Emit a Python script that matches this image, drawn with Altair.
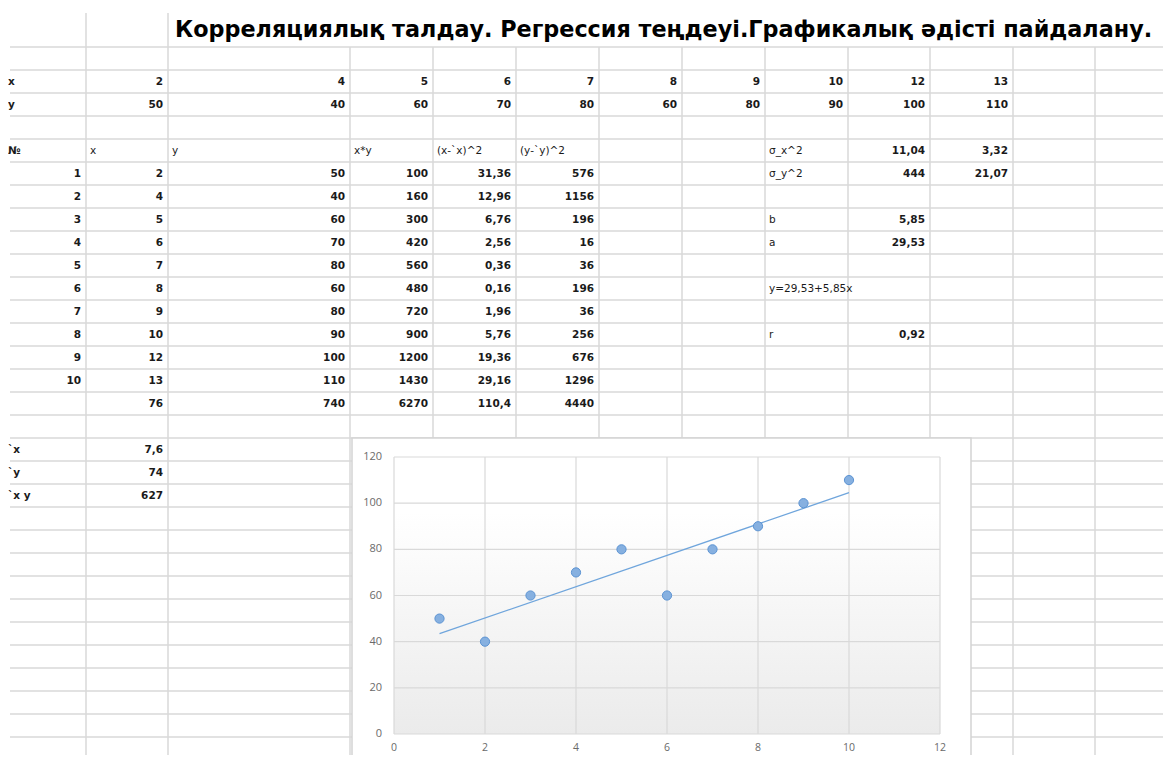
import altair as alt
import pandas as pd

# ---------------- data ----------------
TITLE = "Корреляциялық талдау. Регрессия теңдеуі.Графикалық әдісті пайдалану."
x_vals = [2, 4, 5, 6, 7, 8, 9, 10, 12, 13]
y_vals = [50, 40, 60, 70, 80, 60, 80, 90, 100, 110]
nums = [1, 2, 3, 4, 5, 6, 7, 8, 9, 10]
xy_vals = [100, 160, 300, 420, 560, 480, 720, 900, 1200, 1430]
dx2_vals = ["31,36", "12,96", "6,76", "2,56", "0,36", "0,16", "1,96", "5,76", "19,36", "29,16"]
dy2_vals = [576, 1156, 196, 16, 36, 196, 36, 256, 676, 1296]
totals = ["76", "740", "6270", "110,4", "4440"]
headers = ["№", "x", "y", "x*y", "(x-`x)^2", "(y-`y)^2"]
stat_labels = ["σ_x^2", "σ_y^2", "b", "a", "y=29,53+5,85x", "r"]
stat_values = ["11,04", "444", "5,85", "29,53", "", "0,92"]
stat_sqrt = ["3,32", "21,07", "", "", "", ""]
stat_rows = [5, 6, 8, 9, 11, 13]
mean_labels = ["`x", "`y", "`x y"]
mean_values = ["7,6", "74", "627"]
x_ticks = [0, 2, 4, 6, 8, 10, 12]
y_ticks = [0, 20, 40, 60, 80, 100, 120]

# ---------------- layout ----------------
OFF = 8
W, H = 1171 - 2 * OFF, 763 - 2 * OFF
col_edges_px = [4, 86, 168, 350, 433, 516, 599, 682, 765, 848, 930, 1013, 1095, 1178]
ROW_TOP, ROW_H, N_ROWS = 47, 23, 31
col_scale = alt.Scale(type="linear", domain=list(range(len(col_edges_px))),
                      range=[p - OFF for p in col_edges_px], nice=False, zero=False)
row_scale = alt.Scale(type="linear", domain=[1, N_ROWS + 1],
                      range=[ROW_TOP - OFF, ROW_TOP + ROW_H * N_ROWS - OFF], nice=False, zero=False)
xs = alt.Scale(domain=[x_ticks[0], x_ticks[-1]], range=[394 - OFF, 940 - OFF], nice=False, zero=False)
ys = alt.Scale(domain=[y_ticks[0], y_ticks[-1]], range=[734 - OFF, 457 - OFF], nice=False, zero=False)

CELL_FONT = "DejaVu Sans"
CELL_SIZE = 10.5
CELL_COLOR = "#1a1a1a"
GRID_C = "#d9d9d9"

# ---------------- spreadsheet cells ----------------
cells = []


def put(c, r, t, al):
    if t == "" or t is None:
        return
    cells.append({"c": c, "r": r, "t": str(t), "al": al})


put(0, 2, "x", "l")
put(0, 3, "y", "l")
for i, (a, b) in enumerate(zip(x_vals, y_vals)):
    put(1 + i, 2, a, "r")
    put(1 + i, 3, b, "r")
for i, h in enumerate(headers):
    put(i, 5, h, "l")
for i in range(len(nums)):
    r = 6 + i
    put(0, r, nums[i], "r")
    put(1, r, x_vals[i], "r")
    put(2, r, y_vals[i], "r")
    put(3, r, xy_vals[i], "r")
    put(4, r, dx2_vals[i], "r")
    put(5, r, dy2_vals[i], "r")
for i, t in enumerate(totals):
    put(1 + i, 16, t, "r")
for r, lab, v, s in zip(stat_rows, stat_labels, stat_values, stat_sqrt):
    put(8, r, lab, "l")
    put(9, r, v, "r")
    put(10, r, s, "r")
for i, (lab, v) in enumerate(zip(mean_labels, mean_values)):
    put(0, 18 + i, lab, "l")
    put(1, 18 + i, v, "r")

cells_df = pd.DataFrame(cells)
cells_df["xp"] = cells_df["c"] + (cells_df["al"] == "r").astype(int)
cells_df["yp"] = cells_df["r"] + 0.5
cells_df["grp"] = cells_df["al"]
cells_df.loc[(cells_df["al"] == "l") & (cells_df["c"] == 0), "grp"] = "lb"


def cell_layer(grp, align, dx, weight):
    return alt.Chart(cells_df).transform_filter(alt.datum.grp == grp).mark_text(
        align=align, baseline="middle", dx=dx, font=CELL_FONT, fontSize=CELL_SIZE,
        fontWeight=weight, color=CELL_COLOR
    ).encode(
        x=alt.X("xp:Q", scale=col_scale, axis=None),
        y=alt.Y("yp:Q", scale=row_scale, axis=None),
        text="t:N",
    )


left_text = cell_layer("l", "left", 4, "normal")
left_bold = cell_layer("lb", "left", 4, "bold")
right_text = cell_layer("r", "right", -5, "bold")

edges_df = pd.DataFrame({"e": list(range(1, len(col_edges_px)))})
edges_df["tall"] = edges_df["e"] <= 2
vlines_tall = alt.Chart(edges_df).transform_filter(alt.datum.tall).mark_rule(
    color=GRID_C, strokeWidth=1.5
).encode(x=alt.X("e:Q", scale=col_scale, axis=None), y=alt.value(13 - OFF), y2=alt.value(H))
vlines = alt.Chart(edges_df).transform_filter(~alt.datum.tall).mark_rule(
    color=GRID_C, strokeWidth=1.5
).encode(x=alt.X("e:Q", scale=col_scale, axis=None), y=alt.value(ROW_TOP - OFF), y2=alt.value(H))
rows_df = pd.DataFrame({"k": list(range(1, N_ROWS + 2))})
hlines = alt.Chart(rows_df).mark_rule(color=GRID_C, strokeWidth=1.5).encode(
    y=alt.Y("k:Q", scale=row_scale, axis=None), x=alt.value(2), x2=alt.value(W)
)

title = alt.Chart(pd.DataFrame({"t": [TITLE]})).mark_text(
    align="left", baseline="alphabetic", font="DejaVu Sans", fontSize=22.3, fontWeight="bold", color="#000000"
).encode(text="t:N", x=alt.value(175 - OFF), y=alt.value(37 - OFF))

sheet = alt.layer(hlines, vlines_tall, vlines, left_text, left_bold, right_text, title)

# ---------------- embedded scatter chart ----------------
one = pd.DataFrame({"x0": [x_ticks[0]], "x1": [x_ticks[-1]], "y0": [y_ticks[0]], "y1": [y_ticks[-1]]})
box = alt.Chart(one).mark_rect(fill="white", stroke="#d4d4d4", strokeWidth=1.5).encode(
    x=alt.value(352 - OFF), x2=alt.value(971 - OFF), y=alt.value(438 - OFF), y2=alt.value(H + 20)
)
grad = alt.LinearGradient(
    gradient="linear", x1=0, y1=0, x2=0, y2=1,
    stops=[alt.GradientStop(color="#ffffff", offset=0),
           alt.GradientStop(color="#ffffff", offset=0.2),
           alt.GradientStop(color="#ebebeb", offset=1)],
)
plot_bg = alt.Chart(one).mark_rect(fill=grad).encode(
    x=alt.X("x0:Q", scale=xs, axis=None), x2="x1:Q",
    y=alt.Y("y0:Q", scale=ys, axis=None), y2="y1:Q",
)
xg = pd.DataFrame({"v": x_ticks, "lo": y_ticks[0], "hi": y_ticks[-1]})
yg = pd.DataFrame({"v": y_ticks, "lo": x_ticks[0], "hi": x_ticks[-1]})
xgrid = alt.Chart(xg).mark_rule(color="#d9d9d9", strokeWidth=1.2).encode(
    x=alt.X("v:Q", scale=xs, axis=None), y=alt.Y("lo:Q", scale=ys, axis=None), y2="hi:Q"
)
ygrid = alt.Chart(yg).mark_rule(color="#d9d9d9", strokeWidth=1.2).encode(
    y=alt.Y("v:Q", scale=ys, axis=None), x=alt.X("lo:Q", scale=xs, axis=None), x2="hi:Q"
)

sc_df = pd.DataFrame({"n": nums, "y": y_vals})
trend = alt.Chart(sc_df).transform_regression(
    "n", "y", method="linear", extent=[min(nums), max(nums)]
).mark_line(color="#6fa5dc", strokeWidth=1.3).encode(
    x=alt.X("n:Q", scale=xs, axis=None), y=alt.Y("y:Q", scale=ys, axis=None)
)
points = alt.Chart(sc_df).mark_point(
    shape="circle", filled=True, size=85, fill="#86b0e0", stroke="#5b93d3", strokeWidth=1, opacity=1
).encode(x=alt.X("n:Q", scale=xs, axis=None), y=alt.Y("y:Q", scale=ys, axis=None))

xlab = alt.Chart(pd.DataFrame({"v": x_ticks})).mark_text(
    align="center", baseline="middle", font="Open Sans", fontSize=10.5, color="#6a6a6a"
).encode(x=alt.X("v:Q", scale=xs, axis=None), y=alt.value(748 - OFF), text="v:N")
ylab = alt.Chart(pd.DataFrame({"v": y_ticks})).mark_text(
    align="right", baseline="middle", font="Open Sans", fontSize=11, color="#6a6a6a"
).encode(y=alt.Y("v:Q", scale=ys, axis=None), x=alt.value(382 - OFF), text="v:N")

scatter = alt.layer(box, plot_bg, xgrid, ygrid, trend, points, xlab, ylab)

chart = alt.layer(sheet, scatter).resolve_scale(x="independent", y="independent").properties(
    width=W, height=H, padding=0, autosize=alt.AutoSizeParams(type="none"), background="white"
).configure_view(stroke=None)

chart.save("out.html", embed_options={"renderer": "svg", "actions": False})
